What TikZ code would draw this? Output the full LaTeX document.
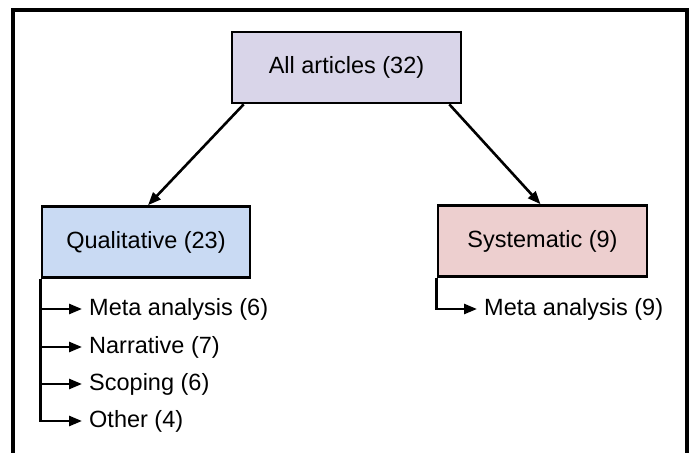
\documentclass[tikz,border=0pt]{standalone}
\usepackage{fontspec}
\setmainfont{Liberation Sans}
\usetikzlibrary{arrows.meta}
\definecolor{allfill}{RGB}{217,213,233}
\definecolor{qualfill}{RGB}{201,218,243}
\definecolor{sysfill}{RGB}{237,207,207}
\tikzset{
  box/.style={draw=black, line width=2.6pt, minimum height=71pt, inner sep=0pt,
    font=\fontsize{23.5}{28}\selectfont},
  item/.style={anchor=west, inner xsep=7pt, inner ysep=0pt,
    font=\fontsize{23.5}{28}\selectfont},
  arr/.style={line width=2.6pt, -{Triangle[length=13pt,width=10pt]}},
}
\begin{document}
\begin{tikzpicture}[x=1pt,y=-1pt]
\useasboundingbox (0,0) rectangle (689,453);
\clip (0,0) rectangle (689,453);
\draw[line width=3.4pt] (13,10) rectangle (687,480);
\node[box, fill=allfill, minimum width=229pt] (all) at (346.5,67.5) {All articles (32)};
\node[box, fill=qualfill, minimum width=208pt] (qual) at (146,242) {Qualitative (23)};
\node[box, fill=sysfill, minimum width=209pt] (sys) at (542.5,241) {Systematic (9)};
\draw[arr] ([xshift=13pt]all.south west) -- ([xshift=2pt]qual.north);
\draw[arr] ([xshift=-13pt]all.south east) -- ([xshift=-2pt]sys.north);
\node[item] (q1) at (82,309) {Meta analysis (6)};
\node[item] (q2) at (82,347) {Narrative (7)};
\node[item] (q3) at (82,384) {Scoping (6)};
\node[item] (q4) at (82,421) {Other (4)};
\node[item] (s1) at (477,309) {Meta analysis (9)};
\foreach \n in {q1,q2,q3,q4}{
  \draw[arr] (qual.south west) |- (\n.west);
}
\draw[arr] (sys.south west) |- (s1.west);
\end{tikzpicture}
\end{document}
